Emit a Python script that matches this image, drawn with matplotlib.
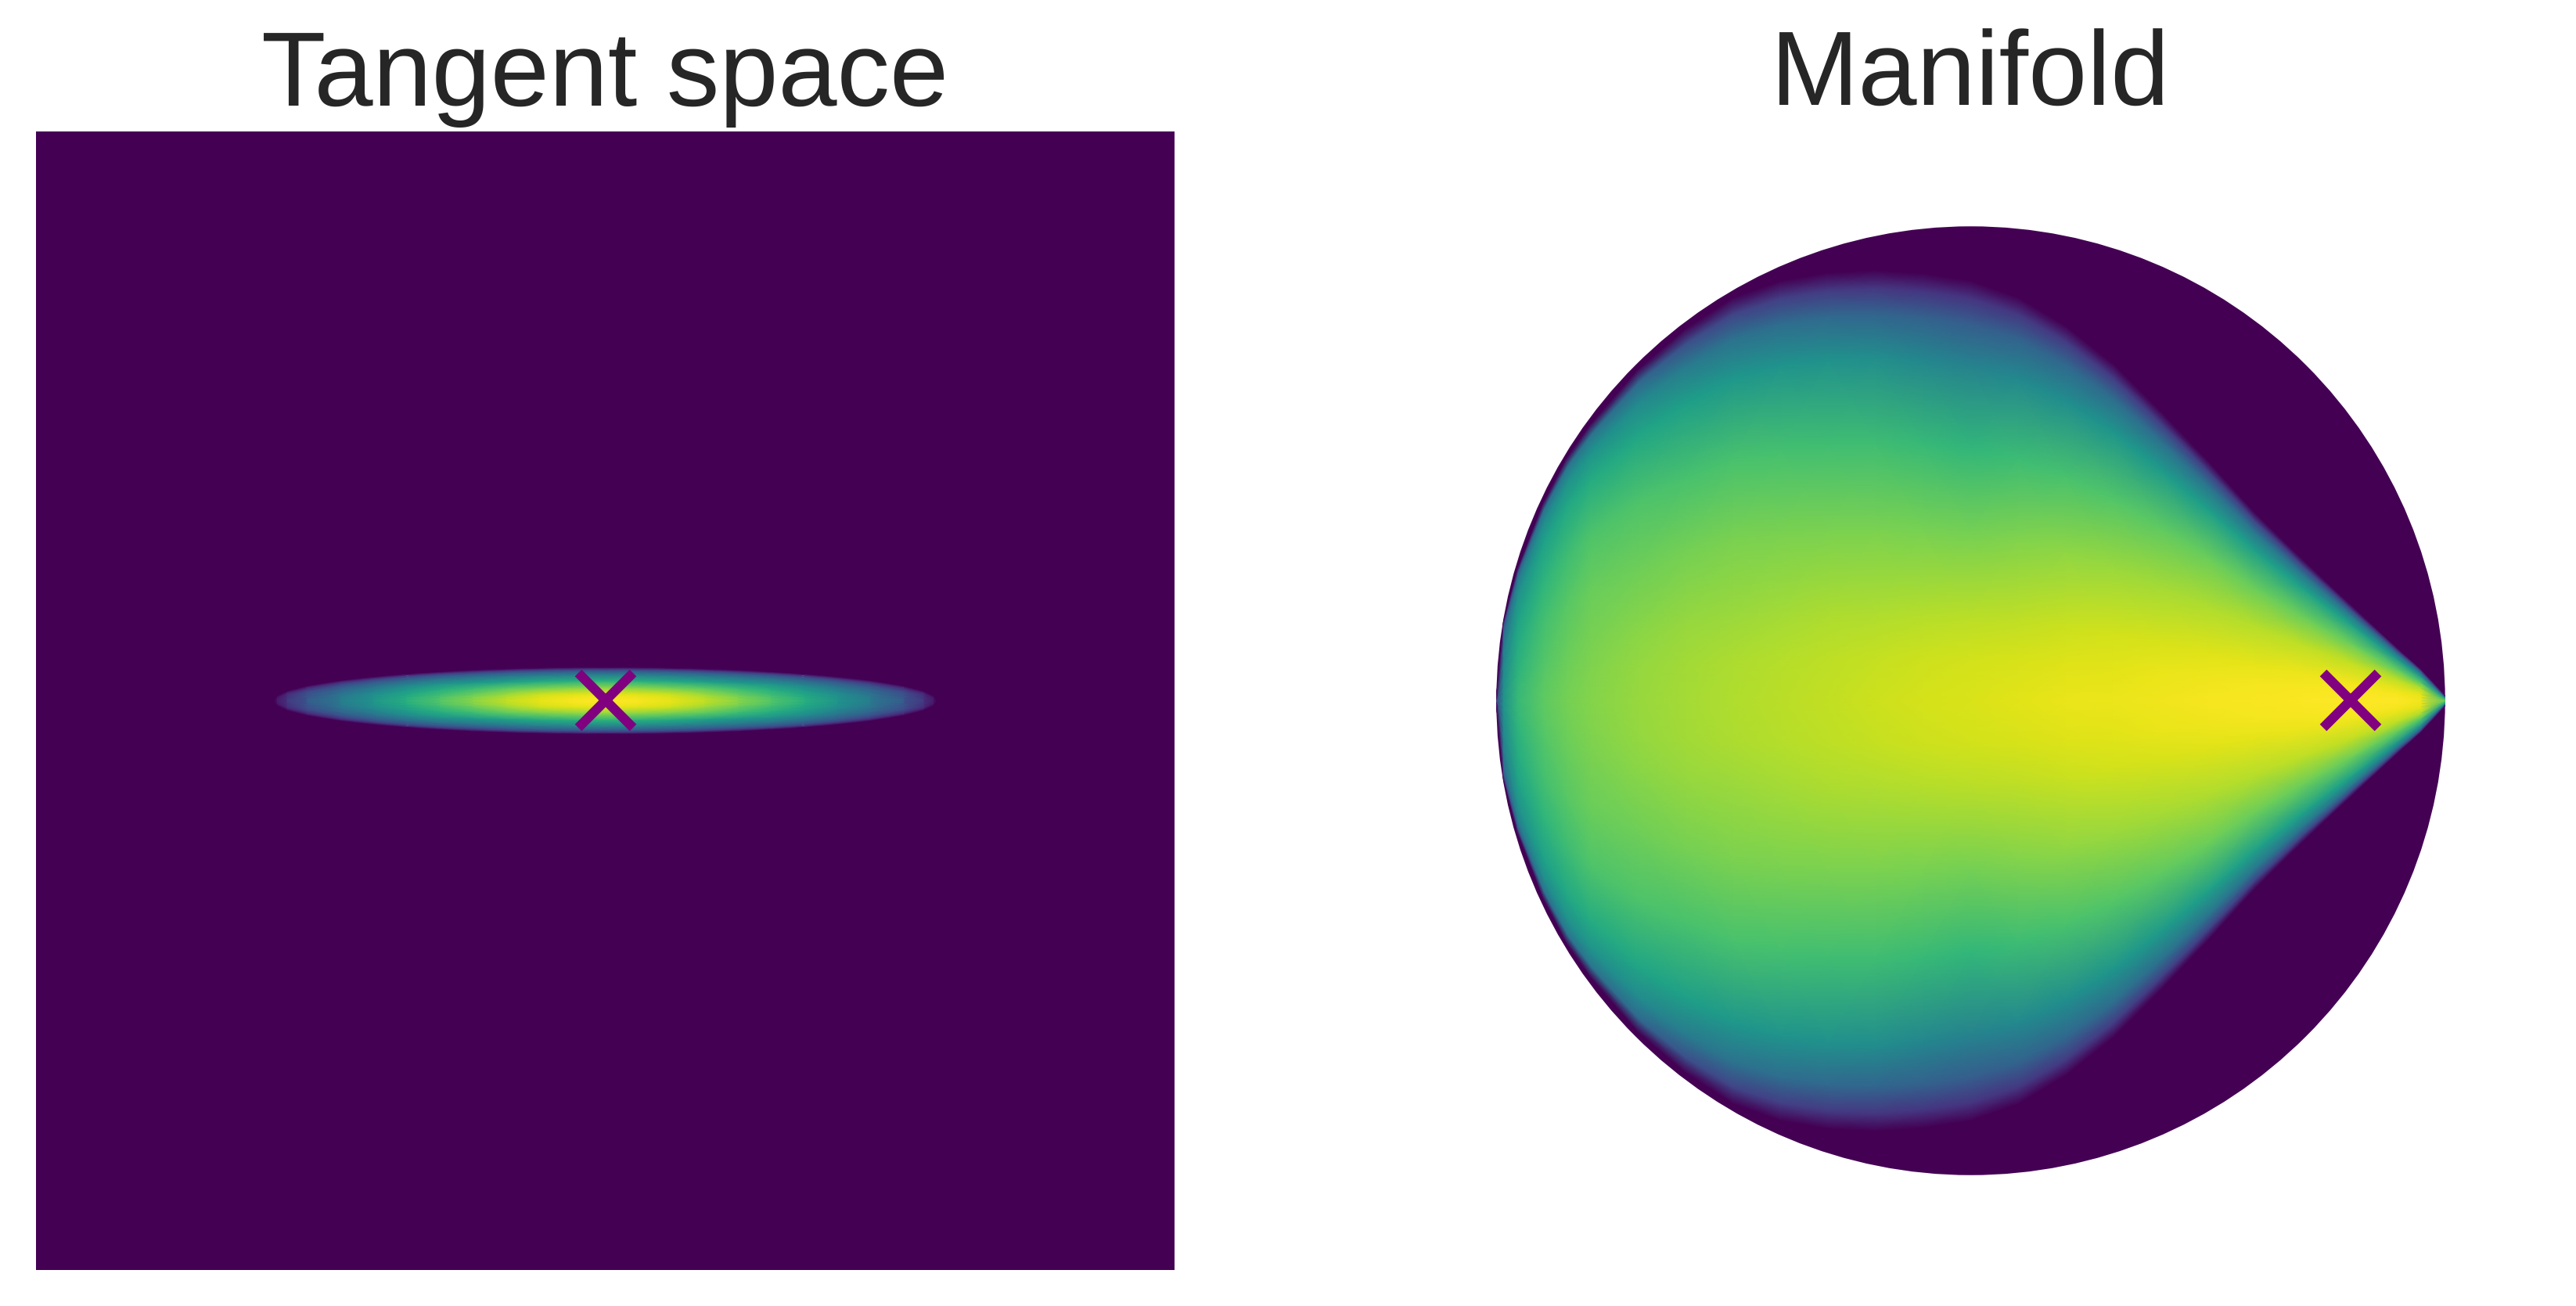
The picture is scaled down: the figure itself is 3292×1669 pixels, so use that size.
import numpy as np
import matplotlib
matplotlib.use("Agg")
import matplotlib.pyplot as plt
from matplotlib.patches import Circle

# colour values (0-1 on viridis).
# each row is one column of the plot, each entry one height, given as a
# fraction of how far the coloured area reaches up in that column
heights = [0, 0.1, 0.2, 0.4, 0.6, 0.8, 0.9, 0.96, 1]

# left panel, upper half of the ellipse
tangent_x = [0, 0.070, 0.140, 0.210, 0.280, 0.350, 0.420, 0.490, 0.560, 0.630, 0.672, 0.693, 0.700]
tangent_top = [0.0700, 0.0697, 0.0686, 0.0668, 0.0642, 0.0606, 0.0560, 0.0500, 0.0420, 0.0305, 0.0196, 0.0098, 0.002]
tangent_values = [
    [1.00, 0.99, 0.96, 0.82, 0.63, 0.41, 0.27, 0.15, 0],
    [0.99, 0.98, 0.95, 0.81, 0.62, 0.41, 0.27, 0.15, 0],
    [0.96, 0.95, 0.92, 0.78, 0.60, 0.40, 0.27, 0.15, 0],
    [0.91, 0.89, 0.85, 0.74, 0.56, 0.38, 0.26, 0.15, 0],
    [0.82, 0.81, 0.77, 0.68, 0.53, 0.36, 0.24, 0.13, 0],
    [0.73, 0.72, 0.69, 0.62, 0.50, 0.34, 0.24, 0.13, 0],
    [0.63, 0.62, 0.60, 0.54, 0.45, 0.31, 0.22, 0.12, 0],
    [0.52, 0.51, 0.50, 0.45, 0.38, 0.27, 0.18, 0.09, 0],
    [0.41, 0.41, 0.40, 0.36, 0.31, 0.22, 0.15, 0.09, 0],
    [0.27, 0.27, 0.26, 0.25, 0.23, 0.15, 0.10, 0.06, 0],
    [0.15, 0.15, 0.15, 0.14, 0.13, 0.10, 0.07, 0.04, 0],
    [0.05, 0.05, 0.05, 0.05, 0.04, 0.03, 0.02, 0.01, 0],
    [0, 0, 0, 0, 0, 0, 0, 0, 0],
]

# right panel, upper half of the disc
manifold_x = [-1.0, -0.985, -0.955, -0.9, -0.85, -0.8, -0.7, -0.6, -0.5, -0.4, -0.3, -0.2, -0.1,
              0, 0.1, 0.2, 0.3, 0.4, 0.5, 0.6, 0.7, 0.8, 0.9, 0.95, 1.0]
manifold_top = [0.005, 0.165, 0.28, 0.42, 0.515, 0.585, 0.70, 0.785, 0.85, 0.885, 0.902, 0.907, 0.90,
                0.885, 0.85, 0.79, 0.71, 0.61, 0.505, 0.395, 0.297, 0.203, 0.11, 0.065, 0.01]
manifold_values = [
    [0.20, 0.18, 0.15, 0.10, 0.05, 0, 0, 0, 0],
    [0.50, 0.50, 0.49, 0.47, 0.43, 0.36, 0.30, 0.20, 0],
    [0.67, 0.665, 0.65, 0.62, 0.58, 0.50, 0.42, 0.30, 0],
    [0.75, 0.745, 0.73, 0.70, 0.65, 0.57, 0.48, 0.36, 0],
    [0.79, 0.785, 0.77, 0.74, 0.69, 0.60, 0.50, 0.38, 0],
    [0.815, 0.81, 0.80, 0.77, 0.72, 0.61, 0.51, 0.38, 0],
    [0.845, 0.84, 0.825, 0.78, 0.72, 0.59, 0.47, 0.33, 0],
    [0.865, 0.86, 0.845, 0.79, 0.71, 0.56, 0.41, 0.24, 0],
    [0.88, 0.875, 0.855, 0.80, 0.71, 0.53, 0.37, 0.20, 0],
    [0.895, 0.888, 0.865, 0.80, 0.70, 0.515, 0.35, 0.18, 0],
    [0.91, 0.90, 0.875, 0.80, 0.695, 0.50, 0.335, 0.17, 0],
    [0.925, 0.912, 0.88, 0.80, 0.69, 0.485, 0.32, 0.16, 0],
    [0.935, 0.922, 0.89, 0.795, 0.675, 0.46, 0.305, 0.155, 0],
    [0.945, 0.93, 0.895, 0.79, 0.66, 0.44, 0.29, 0.15, 0],
    [0.955, 0.94, 0.905, 0.81, 0.685, 0.465, 0.31, 0.16, 0],
    [0.965, 0.95, 0.92, 0.83, 0.71, 0.49, 0.33, 0.17, 0],
    [0.97, 0.957, 0.93, 0.845, 0.73, 0.52, 0.35, 0.175, 0],
    [0.98, 0.967, 0.94, 0.86, 0.75, 0.54, 0.365, 0.18, 0],
    [0.985, 0.975, 0.95, 0.875, 0.77, 0.56, 0.38, 0.19, 0],
    [0.99, 0.982, 0.96, 0.89, 0.77, 0.565, 0.385, 0.19, 0],
    [0.995, 0.988, 0.97, 0.90, 0.77, 0.57, 0.385, 0.19, 0],
    [1.0, 0.995, 0.98, 0.91, 0.77, 0.57, 0.385, 0.19, 0],
    [1.0, 0.99, 0.97, 0.90, 0.75, 0.53, 0.35, 0.17, 0],
    [0.98, 0.97, 0.96, 0.88, 0.72, 0.50, 0.35, 0.20, 0],
    [0.72, 0.70, 0.68, 0.60, 0.48, 0.33, 0.22, 0.12, 0],
]

titles = ["Tangent space", "Manifold"]
marker_x = [0, 0.8]
marker_y = [0, 0]

plt.rcParams['font.family'] = ['Liberation Sans', 'DejaVu Sans']
plt.rcParams['text.hinting'] = 'none'
plt.rcParams['text.hinting_factor'] = 1
dark = plt.cm.viridis(0)


def draw_half(ax, xs, tops, values, sign):
    # columns stretched to the height of the coloured area
    X = np.repeat(np.array(xs)[:, None], len(heights), axis=1)
    Y = sign * np.array(tops)[:, None] * np.array(heights)[None, :]
    return ax.pcolormesh(X, Y, np.array(values), shading='gouraud', cmap='viridis', vmin=0, vmax=1)


w, h = 3292, 1669
fig = plt.figure(figsize=(w / 200, h / 200), dpi=200)
side = 1455 / w
ax1 = fig.add_axes([46 / w, 1 - 1623 / h, side, 1455 / h])
ax2 = fig.add_axes([1791 / w, 1 - 1623 / h, side, 1455 / h])

# left panel
ax1.set_facecolor(dark)
for sx in [1, -1]:
    for sy in [1, -1]:
        draw_half(ax1, sx * np.array(tangent_x), tangent_top, tangent_values, sy)

# right panel
disc = Circle((0, 0), 1, facecolor=dark, edgecolor='none')
ax2.add_patch(disc)
for sy in [1, -1]:
    mesh = draw_half(ax2, manifold_x, manifold_top, manifold_values, sy)
    mesh.set_clip_path(disc)

for i, ax in enumerate([ax1, ax2]):
    ax.plot(marker_x[i], marker_y[i], marker='x', color='#800080', markersize=25, markeredgewidth=4.4)
    ax.set_xlim(-1.2, 1.2)
    ax.set_ylim(-1.2, 1.2)
    ax.set_xticks([])
    ax.set_yticks([])
    for s in ax.spines.values():
        s.set_visible(False)
    ax.set_title(titles[i], fontsize=48.5, color='#262626', pad=12)
ax2.axis('off')
ax2.title.set_visible(True)

fig.savefig("out.png", dpi=200)
